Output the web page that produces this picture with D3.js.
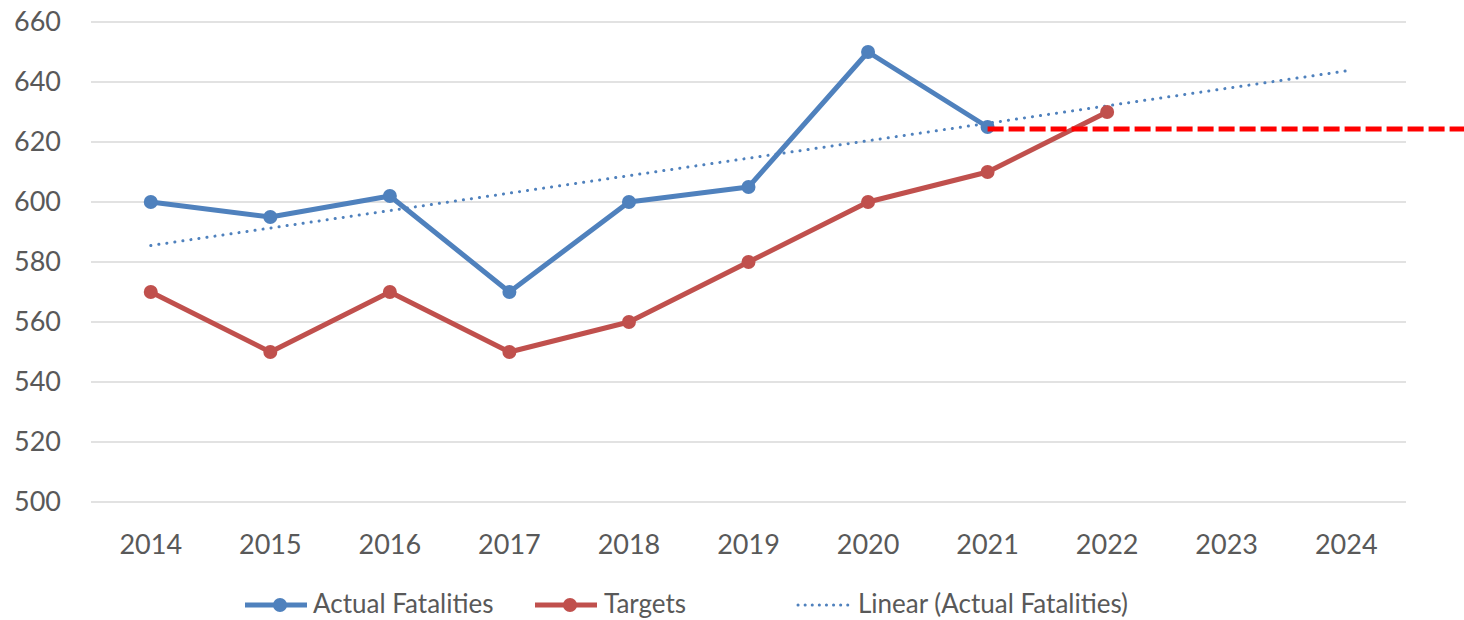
<!DOCTYPE html>
<html>
<head>
<meta charset="utf-8">
<script src="https://d3js.org/d3.v7.min.js"></script>
<style>
  body { margin: 0; background: #fff; }
  text { font-family: Lato, "Open Sans", sans-serif; fill: #595959; }
</style>
</head>
<body>
<script>
// chart data
var years = ["2014","2015","2016","2017","2018","2019","2020","2021","2022","2023","2024"];
var actualYears = ["2014","2015","2016","2017","2018","2019","2020","2021"];
var actual = [600, 595, 602, 570, 600, 605, 650, 625];
var targetYears = ["2014","2015","2016","2017","2018","2019","2020","2021","2022"];
var targets = [570, 550, 570, 550, 560, 580, 600, 610, 630];
var trendYears = ["2014","2024"];
var trend = [585.5, 643.7];
var goalLevel = 624.3;   // red dashed line from 2021 onwards
var yTicks = [500, 520, 540, 560, 580, 600, 620, 640, 660];
var legendNames = ["Actual Fatalities", "Targets", "Linear (Actual Fatalities)"];

var W = 1464, H = 620;
var blue = "#4F81BD", red = "#C0504D";

var svg = d3.select("body").append("svg")
  .attr("width", W).attr("height", H);

var x = d3.scaleBand().domain(years).range([91, 1406]);
var y = d3.scaleLinear().domain([500, 660]).range([502, 22]);
var cx = function(d) { return x(d) + x.bandwidth() / 2; };

// gridlines
svg.append("g").selectAll("line").data(yTicks).enter().append("line")
  .attr("x1", 91).attr("x2", 1406)
  .attr("y1", d => y(d)).attr("y2", d => y(d))
  .attr("stroke", "#D9D9D9").attr("stroke-width", 1.5);

// y axis labels
var yAxis = svg.append("g").attr("transform", "translate(61,0)")
  .call(d3.axisLeft(y).tickValues(yTicks).tickSize(0).tickPadding(0));
yAxis.select(".domain").remove();
yAxis.selectAll("text").style("font-size", "27px").attr("fill", "#595959")
  .style("font-family", "Lato, sans-serif");

// x axis labels
var xAxis = svg.append("g").attr("transform", "translate(0,545)")
  .call(d3.axisBottom(x).tickSize(0).tickPadding(0));
xAxis.select(".domain").remove();
xAxis.selectAll("text").style("font-size", "27px").attr("fill", "#595959")
  .attr("dy", "0.35em").style("font-family", "Lato, sans-serif");

var line = d3.line().x(d => cx(d[0])).y(d => y(d[1]));

// trend line
svg.append("path")
  .datum(d3.zip(trendYears, trend))
  .attr("d", line).attr("fill", "none")
  .attr("stroke", blue).attr("stroke-width", 3)
  .attr("stroke-linecap", "round").attr("stroke-dasharray", "0.1 8");

// targets
var tData = d3.zip(targetYears, targets);
svg.append("path").datum(tData).attr("d", line)
  .attr("fill", "none").attr("stroke", red).attr("stroke-width", 5)
  .attr("stroke-linejoin", "round");
svg.append("g").selectAll("circle").data(tData).enter().append("circle")
  .attr("cx", d => cx(d[0])).attr("cy", d => y(d[1])).attr("r", 7).attr("fill", red);

// actual
var aData = d3.zip(actualYears, actual);
svg.append("path").datum(aData).attr("d", line)
  .attr("fill", "none").attr("stroke", blue).attr("stroke-width", 5)
  .attr("stroke-linejoin", "round");
svg.append("g").selectAll("circle").data(aData).enter().append("circle")
  .attr("cx", d => cx(d[0])).attr("cy", d => y(d[1])).attr("r", 7).attr("fill", blue);

// red dashed goal line
svg.append("line")
  .attr("x1", cx("2021")).attr("x2", W)
  .attr("y1", y(goalLevel)).attr("y2", y(goalLevel))
  .attr("stroke", "#FF0000").attr("stroke-width", 5)
  .attr("stroke-dasharray", "16 5");

// legend
var lg = svg.append("g");
var items = [
  { x: 245, type: "marker", color: blue, tx: 313 },
  { x: 535, type: "marker", color: red, tx: 604 },
  { x: 798, type: "dot", color: blue, tx: 858 }
];
items.forEach(function(it, i) {
  var ly = 605;
  if (it.type === "marker") {
    lg.append("line").attr("x1", it.x).attr("x2", it.x + 62)
      .attr("y1", ly).attr("y2", ly).attr("stroke", it.color).attr("stroke-width", 5);
    lg.append("circle").attr("cx", it.x + 35).attr("cy", ly).attr("r", 7).attr("fill", it.color);
  } else {
    lg.append("line").attr("x1", it.x).attr("x2", it.x + 54)
      .attr("y1", ly).attr("y2", ly).attr("stroke", it.color).attr("stroke-width", 3)
      .attr("stroke-linecap", "round").attr("stroke-dasharray", "0.1 7");
  }
  lg.append("text").attr("x", it.tx).attr("y", ly - 1).attr("dy", "0.35em")
    .style("font-size", "26px").text(legendNames[i]);
});
</script>
</body>
</html>
